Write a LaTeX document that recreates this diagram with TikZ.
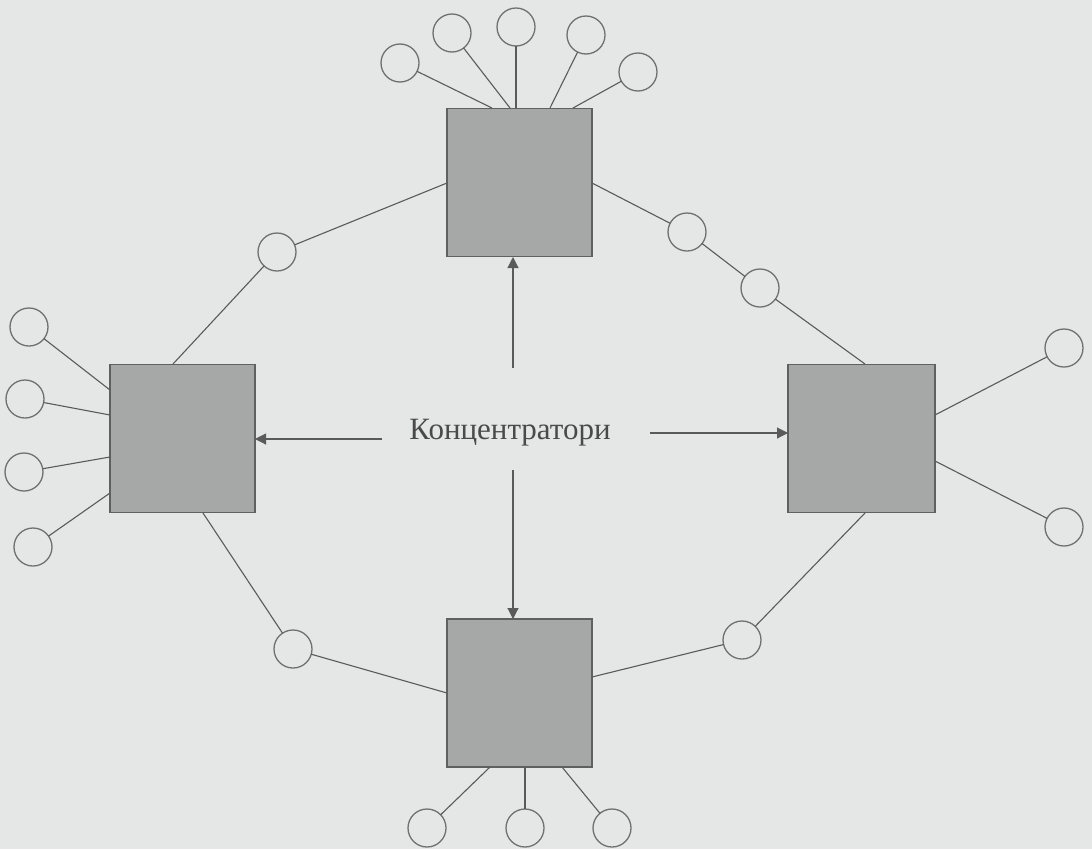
\documentclass[tikz,border=0pt]{standalone}
\usepackage{fontspec}
\setmainfont{Liberation Serif}
\usetikzlibrary{arrows.meta}
\definecolor{bg}{HTML}{E4E7E6}
\definecolor{hubfill}{HTML}{A6A7A7}
\definecolor{hubline}{HTML}{606060}
\definecolor{wire}{HTML}{5A5A5A}
\definecolor{termline}{HTML}{707070}
\definecolor{txt}{HTML}{4A4A4A}
\begin{document}
\begin{tikzpicture}[x=1pt,y=-1pt,
  hub/.style={draw=hubline,fill=hubfill,line width=1.2pt,minimum width=145pt,minimum height=148pt,inner sep=0pt,outer sep=0pt},
  term/.style={circle,draw=termline,fill=bg,line width=1.3pt,minimum size=38pt,inner sep=0pt,outer sep=0pt},
  wireline/.style={draw=wire,line width=1.1pt},
  ptr/.style={draw=wire,line width=1.1pt,-{Triangle[length=11pt,width=11pt]}}]
\fill[bg] (0,0) rectangle (1092,849);
\useasboundingbox (0,0) rectangle (1092,849);

% hubs
\node[hub] (T) at (519.5,182.5) {};
\node[hub] (L) at (182.5,438.5) {};
\node[hub,minimum width=147pt] (R) at (861.5,438.5) {};
\node[hub] (B) at (519.5,693) {};

% label
\node[text=txt,font=\fontsize{31}{36}\selectfont,inner sep=2pt] (lbl) at (510,433) {Концентратори};

% arrows
\coordinate (aU) at (513,368);
\coordinate (aD) at (513,470);
\coordinate (aL) at (382,439);
\coordinate (aR) at (650,433);
\coordinate (hT) at (513,257);
\coordinate (hB) at (513,619);
\coordinate (hL) at (255,439);
\coordinate (hR) at (788,433);
\draw[ptr] (aU) -- (hT);
\draw[ptr] (aD) -- (hB);
\draw[ptr] (aL) -- (hL);
\draw[ptr] (aR) -- (hR);

% top terminals
\node[term] (t1) at (400,63) {};
\node[term] (t2) at (452,33) {};
\node[term] (t3) at (516,27) {};
\node[term] (t4) at (586,35) {};
\node[term] (t5) at (638,72) {};
\coordinate (pt1) at (492,108);
\coordinate (pt2) at (510,108);
\coordinate (pt3) at (516,108);
\coordinate (pt4) at (550,108);
\coordinate (pt5) at (573,108);
\foreach \i in {1,...,5} \draw[wireline] (t\i) -- (pt\i);

% left terminals
\node[term] (l1) at (29,327) {};
\node[term] (l2) at (25,399) {};
\node[term] (l3) at (24,472) {};
\node[term] (l4) at (33,547) {};
\coordinate (pl1) at (110,390);
\coordinate (pl2) at (110,415);
\coordinate (pl3) at (110,457);
\coordinate (pl4) at (110,493);
\foreach \i in {1,...,4} \draw[wireline] (l\i) -- (pl\i);

% right terminals
\node[term] (r1) at (1064,348) {};
\node[term] (r2) at (1064,527) {};
\coordinate (pr1) at (935,415);
\coordinate (pr2) at (935,461);
\foreach \i in {1,2} \draw[wireline] (r\i) -- (pr\i);

% bottom terminals
\node[term] (b1) at (427,828) {};
\node[term] (b2) at (525,828) {};
\node[term] (b3) at (612,828) {};
\coordinate (pb1) at (490,767);
\coordinate (pb2) at (525,767);
\coordinate (pb3) at (562,767);
\foreach \i in {1,2,3} \draw[wireline] (b\i) -- (pb\i);

% ring
\node[term] (tl) at (277,252) {};
\node[term] (lb) at (293,649) {};
\node[term] (br) at (742,640) {};
\node[term] (rt2) at (760,288) {};
\node[term] (rt1) at (687,232) {};
\coordinate (Tw) at (447,183);
\coordinate (Ln) at (173,364);
\coordinate (Ls) at (203,513);
\coordinate (Bw) at (447,693);
\coordinate (Be) at (592,677);
\coordinate (Rs) at (865,513);
\coordinate (Rn) at (865,364);
\coordinate (Te) at (592,183);
\draw[wireline] (Tw) -- (tl);
\draw[wireline] (tl) -- (Ln);
\draw[wireline] (Ls) -- (lb);
\draw[wireline] (lb) -- (Bw);
\draw[wireline] (Be) -- (br);
\draw[wireline] (br) -- (Rs);
\draw[wireline] (Rn) -- (rt2);
\draw[wireline] (rt2) -- (rt1);
\draw[wireline] (rt1) -- (Te);
\end{tikzpicture}
\end{document}
